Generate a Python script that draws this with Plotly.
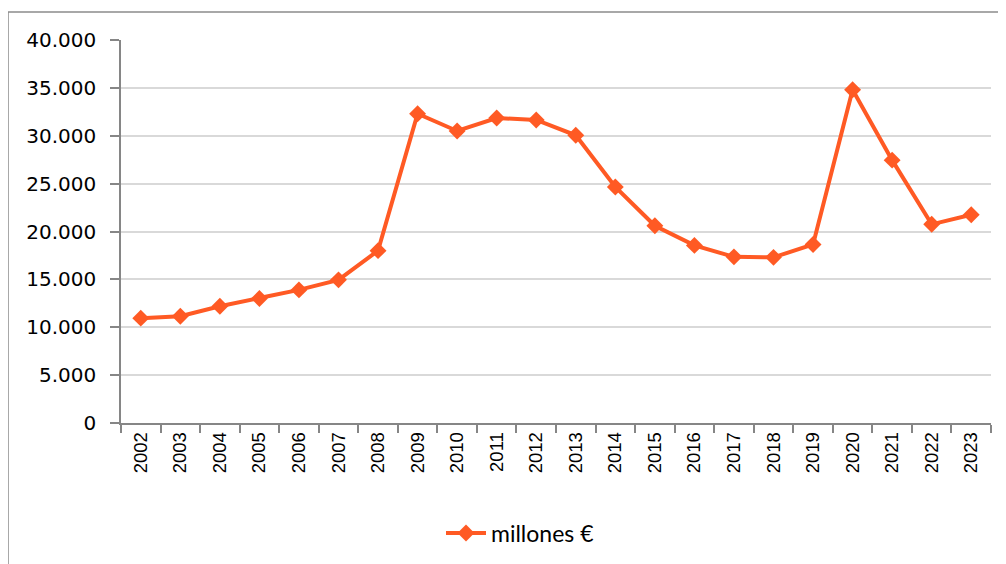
import plotly.graph_objects as go

years = ["2002", "2003", "2004", "2005", "2006", "2007", "2008", "2009", "2010", "2011",
         "2012", "2013", "2014", "2015", "2016", "2017", "2018", "2019", "2020", "2021",
         "2022", "2023"]
millones = [10950, 11150, 12200, 13000, 13900, 14950, 18000, 32300, 30500, 31850,
            31650, 30050, 24650, 20600, 18550, 17350, 17300, 18650, 34800, 27450,
            20750, 21750]
y_ticks = [0, 5000, 10000, 15000, 20000, 25000, 30000, 35000, 40000]
series_name = "millones €"

ORANGE = "#FF5A24"
OFF = 8  # page body margin
W, H = 1006 - OFF, 564 - OFF
L, R, T, B = 121 - OFF, 991 - OFF, 40 - OFF, 423 - OFF

fig = go.Figure()
fig.add_trace(go.Scatter(
    x=years, y=millones, name=series_name, mode="lines+markers",
    line=dict(color=ORANGE, width=4),
    marker=dict(symbol="diamond", size=13, color=ORANGE),
    showlegend=True,
))

fig.update_layout(
    width=W, height=H,
    margin=dict(l=L, r=W - R, t=T, b=H - B, pad=0, autoexpand=False),
    paper_bgcolor="white", plot_bgcolor="white",
    separators=",.",
    showlegend=True,
    legend=dict(orientation="h", xref="container", yref="container",
                x=(520 - OFF) / W, xanchor="center",
                y=(H - (533 - OFF)) / H, yanchor="middle",
                font=dict(family="Lato", size=23, color="#000"),
                itemwidth=40, bgcolor="rgba(0,0,0,0)"),
    font=dict(family="DejaVu Sans", color="#000"),
)

fig.update_xaxes(
    type="category", tickson="boundaries", range=[-0.5, len(years) - 0.5],
    showline=True, linecolor="#868686", linewidth=1.5,
    ticks="outside", ticklen=8, tickcolor="#868686", tickwidth=1.5,
    tickangle=-90, tickfont=dict(family="Liberation Sans", size=18.5, color="#000"),
    showgrid=False, zeroline=False, ticklabelstandoff=0, automargin=False,
)
fig.update_yaxes(
    range=[0, 40000], tickvals=y_ticks, tickformat=",d",
    showline=True, linecolor="#868686", linewidth=1.5,
    ticks="outside", ticklen=9, tickcolor="#868686", tickwidth=1.5,
    tickfont=dict(family="DejaVu Sans", size=20, color="#000"),
    showgrid=True, gridcolor="#D9D9D9", gridwidth=1.5, zeroline=False,
    ticklabelstandoff=10, automargin=False,
)

# outer chart border (extends beyond the picture at right and bottom)
fig.add_shape(type="rect", xref="paper", yref="paper",
              x0=(8 - OFF - L) / (R - L), x1=(W + 10 - L) / (R - L),
              y0=(B - (H + 10)) / (B - T), y1=(B - (12 - OFF)) / (B - T),
              line=dict(color="#8C8C8C", width=1.5), fillcolor="rgba(0,0,0,0)", layer="below")

fig.write_html("out.html")
